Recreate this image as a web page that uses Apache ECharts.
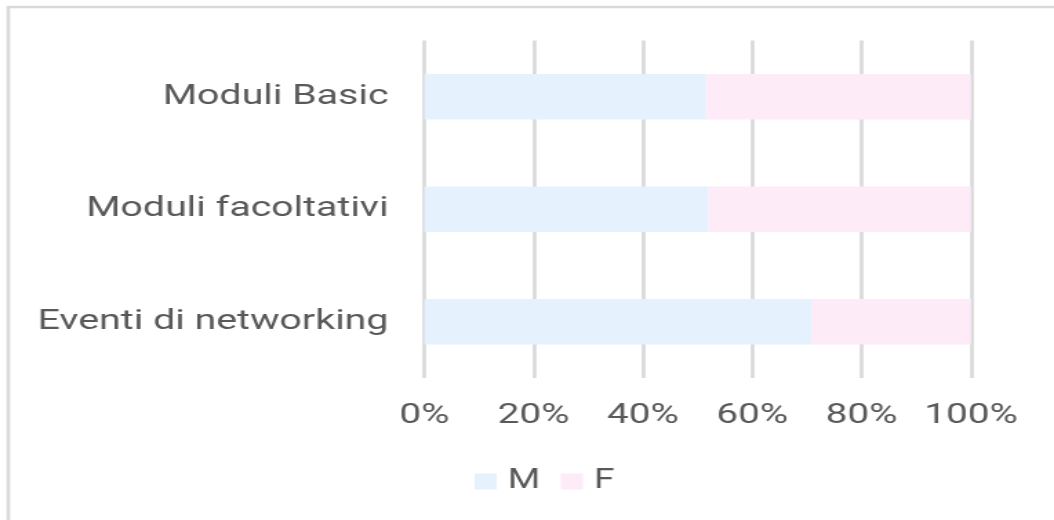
<!DOCTYPE html>
<html>
<head>
<meta charset="utf-8">
<script src="https://cdn.jsdelivr.net/npm/echarts@6/dist/echarts.min.js"></script>
<style>
html,body{margin:0;padding:0;background:#fff;overflow:hidden;width:1054px;height:520px;}
#main{width:764px;height:520px;transform:scaleX(1.3796);transform-origin:0 0;}
</style>
</head>
<body>
<div id="main"></div>
<script>
const categories = ['Moduli Basic', 'Moduli facoltativi', 'Eventi di networking'];
const seriesNames = ['M', 'F'];
const valuesM = [51.5, 51.9, 70.8];
const valuesF = [48.5, 48.1, 29.2];
const tickLabels = ['0%', '20%', '40%', '60%', '80%', '100%'];

const FONT = 'Roboto, "Noto Sans", sans-serif';
const TEXT = '#595959';
const chart = echarts.init(document.getElementById('main'), null, {renderer: 'canvas'});
chart.setOption({
  animation: false,
  backgroundColor: '#ffffff',
  textStyle: {fontFamily: FONT},
  graphic: [{
    type: 'rect',
    shape: {x: 6, y: 7, width: 1000, height: 800},
    style: {fill: 'none', stroke: '#d9d9d9', lineWidth: 2.5},
    silent: true
  }],
  legend: {
    data: seriesNames,
    left: 339,
    top: 463,
    itemWidth: 16,
    itemHeight: 16,
    itemGap: 15,
    icon: 'rect',
    textStyle: {color: TEXT, fontSize: 27, fontFamily: FONT, padding: [0, 0, 0, 3]}
  },
  grid: {left: 307.6, right: 60.2, top: 40.5, bottom: 142, containLabel: false},
  xAxis: {
    type: 'value',
    min: 0,
    max: 100,
    interval: 20,
    axisLine: {show: false},
    axisTick: {show: false},
    splitLine: {show: true, lineStyle: {color: '#d9d9d9', width: 2.6}},
    axisLabel: {
      color: TEXT, fontSize: 28, fontFamily: FONT, margin: 24,
      formatter: function (v) { return tickLabels[Math.round(v / 20)]; }
    }
  },
  yAxis: {
    type: 'category',
    data: categories,
    inverse: true,
    axisLine: {show: false},
    axisTick: {show: false},
    splitLine: {show: false},
    axisLabel: {color: TEXT, fontSize: 28.5, fontFamily: FONT, margin: 26}
  },
  series: [
    {name: 'M', type: 'bar', stack: 'total', data: valuesM, barWidth: 45.5,
     itemStyle: {color: '#e5f1fd'}},
    {name: 'F', type: 'bar', stack: 'total', data: valuesF, barWidth: 45.5,
     itemStyle: {color: '#fdebf8'}}
  ]
});
</script>
</body>
</html>
